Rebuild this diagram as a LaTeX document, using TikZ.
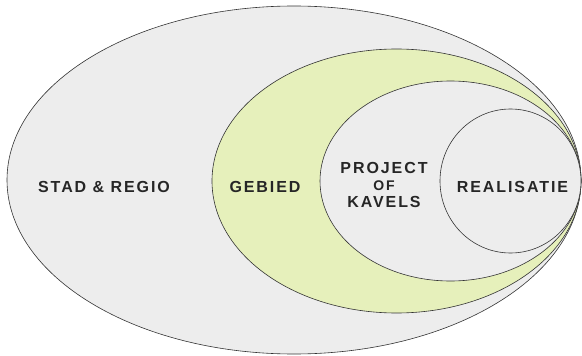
\documentclass[tikz,border=0pt]{standalone}
\usepackage{fontspec}
\setmainfont{Liberation Sans}
\definecolor{setgray}{HTML}{EDEDED}
\definecolor{setgreen}{HTML}{E6F0BB}
\definecolor{rim}{HTML}{333333}
\definecolor{ink}{HTML}{262626}
\begin{document}
\begin{tikzpicture}[x=1pt, y=-1pt,
  label/.style={text=ink, align=center, inner sep=0,
    font=\addfontfeature{LetterSpace=12}\bfseries\fontsize{16}{17}\selectfont}]
\useasboundingbox (0,0) rectangle (582,356);
\filldraw[fill=setgray, draw=rim, line width=0.6] (294,180) ellipse (287 and 174);
\filldraw[fill=setgreen, draw=rim, line width=0.6] (396.5,181) ellipse (184.5 and 132);
\filldraw[fill=setgray, draw=rim, line width=0.6] (450.5,181) ellipse (130.5 and 100);
\filldraw[fill=setgray, draw=rim, line width=0.6] (510.5,181) ellipse (70.5 and 72);
\node[label] (stad) at (104,187) {STAD \& REGIO};
\node[label] (gebied) at (265,187) {GEBIED};
\node[label] (project) at (384,185)
  {PROJECT\\\fontsize{14}{17}\selectfont OF\\\fontsize{16}{17}\selectfont KAVELS};
\node[label] (realisatie) at (512.5,187) {REALISATIE};
\end{tikzpicture}
\end{document}
